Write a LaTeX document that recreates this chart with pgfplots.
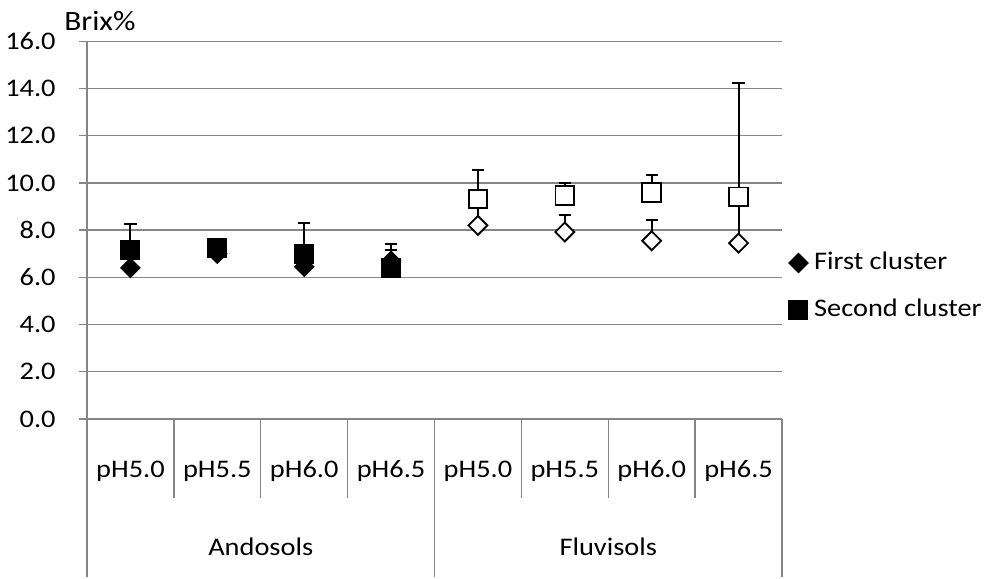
\documentclass[border=0pt]{standalone}
\usepackage{fontspec}
\setmainfont{Carlito}[FakeStretch=1.12]
\usepackage{pgfplots}
\pgfplotsset{compat=1.18}
\usepackage{pgfplotstable}
\definecolor{gridgray}{HTML}{868686}

% First cluster (diamonds)
\pgfplotstableread{
x y ey
0 6.40 0
1 7.00 0
2 6.45 0
3 6.70 0.70
}\diaA
\pgfplotstableread{
x y ey
4 8.20 2.33
5 7.92 0.72
6 7.55 0.90
7 7.45 6.77
}\diaF
% Second cluster (squares)
\pgfplotstableread{
x y ey
0 7.17 1.07
1 7.25 0
2 7.00 1.30
3 6.40 0.75
}\sqA
\pgfplotstableread{
x y ey
4 9.32 1.21
5 9.46 0.53
6 9.59 0.76
7 9.41 0
}\sqF

\pgfplotsset{
  ebar/.style={only marks, mark=none, forget plot,
  error bars/.cd, y dir=plus, y explicit,
  error bar style={black, line width=1.5pt},
  error mark options={black, line width=1.5pt, mark size=4.6pt, rotate=90}},
}

\begin{document}
\fontsize{19}{23}\selectfont
\begin{tikzpicture}
\path[use as bounding box] (-65.25pt,-119.25pt) rectangle (672.75pt,314.25pt);
\begin{axis}[
  at={(0,0)}, anchor=south west, scale only axis,
  width=521.25pt, height=283.3pt,
  xmin=-0.5, xmax=7.5, ymin=0, ymax=16,
  xtick=\empty,
  ytick={0,2,...,16},
  yticklabel={\pgfmathprintnumber[fixed,fixed zerofill,precision=1,assume math mode=true]{\tick}},
  yticklabel style={font=\fontsize{19}{23}\selectfont, anchor=east, xshift=-11pt},
  axis x line=bottom, axis y line=left,
  axis line style={-, draw=gridgray, line width=1pt},
  ymajorgrids, major grid style={gridgray, line width=1pt},
  ytick style={gridgray, line width=1pt},
  tick align=outside, major tick length=6pt,
  clip=false,
  legend style={draw=none, fill=none, at={(1.004,0.351)}, anchor=west,
    font=\fontsize{19}{23}\selectfont, row sep=16pt, legend cell align=left,
    nodes={inner sep=1.5pt}},
  legend image code/.code={\draw[#1] plot coordinates {(0.22cm,0pt)};},
]
% error bars first (drawn beneath markers)
\addplot[ebar] table[x=x, y=y, y error=ey]{\diaA};
\addplot[ebar] table[x=x, y=y, y error=ey]{\diaF};
\addplot[ebar] table[x=x, y=y, y error=ey]{\sqA};
\addplot[ebar] table[x=x, y=y, y error=ey]{\sqF};

\addplot[only marks, mark=square*, mark size=5pt,
  mark options={rotate=45, draw=black, fill=black, line width=1pt}]
  table[x=x, y=y]{\diaA};
\addlegendentry{\,First cluster}
\addplot[only marks, mark=square*, mark size=5pt, forget plot,
  mark options={rotate=45, draw=black, fill=white, line width=1.4pt}]
  table[x=x, y=y]{\diaF};
\addplot[only marks, mark=square*, mark size=7pt,
  mark options={draw=black, fill=black, line width=1pt}]
  table[x=x, y=y]{\sqA};
\addlegendentry{\,Second cluster}
\addplot[only marks, mark=square*, mark size=7pt, forget plot,
  mark options={draw=black, fill=white, line width=1.4pt}]
  table[x=x, y=y]{\sqF};

% category separators
\pgfplotsinvokeforeach{0.5,1.5,2.5,4.5,5.5,6.5}{
  \draw[gridgray, line width=1pt] (axis cs:#1,0) -- ([yshift=-59.25pt]axis cs:#1,0);
}
\pgfplotsinvokeforeach{-0.5,3.5,7.5}{
  \draw[gridgray, line width=1pt] (axis cs:#1,0) -- ([yshift=-118.5pt]axis cs:#1,0);
}
% category labels
\node[anchor=base] at ([yshift=-43.5pt]axis cs:0,0) {pH5.0};
\node[anchor=base] at ([yshift=-43.5pt]axis cs:1,0) {pH5.5};
\node[anchor=base] at ([yshift=-43.5pt]axis cs:2,0) {pH6.0};
\node[anchor=base] at ([yshift=-43.5pt]axis cs:3,0) {pH6.5};
\node[anchor=base] at ([yshift=-43.5pt]axis cs:4,0) {pH5.0};
\node[anchor=base] at ([yshift=-43.5pt]axis cs:5,0) {pH5.5};
\node[anchor=base] at ([yshift=-43.5pt]axis cs:6,0) {pH6.0};
\node[anchor=base] at ([yshift=-43.5pt]axis cs:7,0) {pH6.5};
\node[anchor=base] at ([yshift=-102pt]axis cs:1.5,0) {Andosols};
\node[anchor=base] at ([yshift=-102pt]axis cs:5.5,0) {Fluvisols};
\end{axis}
\node[anchor=base west, inner sep=0pt, font=\fontsize{21}{25}\selectfont] at (-17.25pt,291pt) {Brix\%};
\end{tikzpicture}
\end{document}
